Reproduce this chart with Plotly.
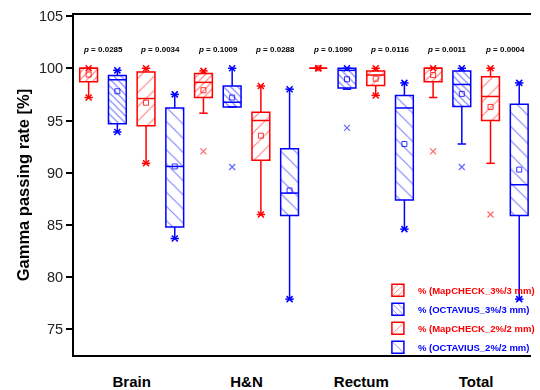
import plotly.graph_objects as go

# ---------------- data ----------------
groups = ["Brain", "H&N", "Rectum", "Total"]
series_names = ["% (MapCHECK_3%/3 mm)", "% (OCTAVIUS_3%/3 mm)",
                "% (MapCHECK_2%/2 mm)", "% (OCTAVIUS_2%/2 mm)"]
p_values = ["0.0285", "0.0034", "0.1009", "0.0288",
            "0.1090", "0.0116", "0.0011", "0.0004"]

# MapCHECK 3%/3 mm  (Brain, H&N, Rectum, Total)
mc3_q1 = [98.7, 97.2, 100.0, 98.7]
mc3_med = [100.0, 98.65, 100.0, 100.0]
mc3_q3 = [100.0, 99.5, 100.0, 100.0]
mc3_mean = [99.4, 97.9, 100.0, 99.35]
mc3_lo = [97.2, 95.7, 100.0, 97.2]
mc3_hi = [100.0, 99.75, 100.0, 100.0]
mc3_out = [[], [92.05], [], [92.05]]

# OCTAVIUS 3%/3 mm
oc3_q1 = [94.7, 96.3, 98.1, 96.35]
oc3_med = [98.9, 96.75, 99.8, 98.45]
oc3_q3 = [99.3, 98.3, 100.0, 99.75]
oc3_mean = [97.8, 97.2, 98.95, 97.55]
oc3_lo = [93.9, 96.3, 98.0, 92.75]
oc3_hi = [99.8, 100.0, 100.0, 100.0]
oc3_out = [[], [90.55], [94.3], [90.55]]

# MapCHECK 2%/2 mm
mc2_q1 = [94.5, 91.2, 98.35, 95.0]
mc2_med = [97.1, 95.0, 99.35, 97.3]
mc2_q3 = [99.65, 95.8, 99.75, 99.2]
mc2_mean = [96.7, 93.55, 99.0, 96.3]
mc2_lo = [90.9, 86.0, 97.4, 90.9]
mc2_hi = [100.0, 98.3, 100.0, 100.0]
mc2_out = [[], [], [], [86.0]]

# OCTAVIUS 2%/2 mm
oc2_q1 = [84.8, 85.9, 87.4, 85.9]
oc2_med = [90.6, 88.05, 96.2, 88.85]
oc2_q3 = [96.2, 92.3, 97.4, 96.55]
oc2_mean = [90.6, 88.3, 92.75, 90.3]
oc2_lo = [83.7, 77.9, 84.6, 77.9]
oc2_hi = [97.5, 98.0, 98.6, 98.6]
oc2_out = [[], [], [], []]

# ---------------- styling ----------------
RED = "#FF0000"
BLUE = "#0000FF"
series = [
    dict(name=series_names[0], q1=mc3_q1, med=mc3_med, q3=mc3_q3, mean=mc3_mean,
         lo=mc3_lo, hi=mc3_hi, out=mc3_out, color=RED, light="rgba(255,0,0,0.6)",
         shape="/", size=5, sol=0.22),
    dict(name=series_names[1], q1=oc3_q1, med=oc3_med, q3=oc3_q3, mean=oc3_mean,
         lo=oc3_lo, hi=oc3_hi, out=oc3_out, color=BLUE, light="rgba(0,0,255,0.6)",
         shape="\\", size=5, sol=0.22),
    dict(name=series_names[2], q1=mc2_q1, med=mc2_med, q3=mc2_q3, mean=mc2_mean,
         lo=mc2_lo, hi=mc2_hi, out=mc2_out, color=RED, light="rgba(255,0,0,0.6)",
         shape="/", size=10, sol=0.11),
    dict(name=series_names[3], q1=oc2_q1, med=oc2_med, q3=oc2_q3, mean=oc2_mean,
         lo=oc2_lo, hi=oc2_hi, out=oc2_out, color=BLUE, light="rgba(0,0,255,0.6)",
         shape="\\", size=10, sol=0.11),
]
NS = len(series)
BW = 0.62  # box width in slot units

fig = go.Figure()

for s, d in enumerate(series):
    pos = [NS * g + s for g in range(len(groups))]
    c = d["color"]
    # boxes (patterned)
    fig.add_trace(go.Bar(
        x=pos, y=[b - a for a, b in zip(d["q1"], d["q3"])], base=d["q1"],
        width=BW, name=f"<span style='color:{c}'>{d['name']}</span>",
        marker=dict(color="white", line=dict(color=c, width=1.5),
                    pattern=dict(shape=d["shape"], fgcolor=c, bgcolor="white",
                                 size=d["size"], solidity=d["sol"])),
        hoverinfo="skip"))
    # whiskers
    wx, wy = [], []
    for p, a, b, lo, hi in zip(pos, d["q1"], d["q3"], d["lo"], d["hi"]):
        wx += [p, p, None, p, p, None]
        wy += [b, hi, None, a, lo, None]
    fig.add_trace(go.Scatter(x=wx, y=wy, mode="lines", line=dict(color=c, width=1.5),
                             showlegend=False, hoverinfo="skip"))
    # medians
    mx, my = [], []
    for p, m in zip(pos, d["med"]):
        mx += [p - BW / 2, p + BW / 2, None]
        my += [m, m, None]
    fig.add_trace(go.Scatter(x=mx, y=my, mode="lines", line=dict(color=c, width=1.5),
                             showlegend=False, hoverinfo="skip"))
    # whisker caps
    fig.add_trace(go.Scatter(x=pos + pos, y=d["lo"] + d["hi"], mode="markers",
                             marker=dict(symbol="line-ew", size=6,
                                         line=dict(color=c, width=1.5)),
                             showlegend=False, hoverinfo="skip"))
    # min / max markers
    kx, ky = [], []
    for p, lo, hi, out in zip(pos, d["lo"], d["hi"], d["out"]):
        kx.append(p); ky.append(hi)
        if not [o for o in out if o < lo]:
            kx.append(p); ky.append(lo)
    fig.add_trace(go.Scatter(x=kx, y=ky, mode="markers",
                             marker=dict(symbol="x-thin", size=6,
                                         line=dict(color=c, width=1.5)),
                             showlegend=False, hoverinfo="skip"))
    # outliers
    ox, oy = [], []
    for p, out in zip(pos, d["out"]):
        for o in out:
            ox.append(p); oy.append(o)
    fig.add_trace(go.Scatter(x=ox, y=oy, mode="markers",
                             marker=dict(symbol="x-thin", size=6,
                                         line=dict(color=d["light"], width=1.2)),
                             showlegend=False, hoverinfo="skip"))
    # means
    fig.add_trace(go.Scatter(x=pos, y=d["mean"], mode="markers",
                             marker=dict(symbol="square-open", size=5, color=c,
                                         line=dict(color=c, width=1)),
                             opacity=0.8, showlegend=False, hoverinfo="skip"))

# p-value annotations
for i, pv in enumerate(p_values):
    fig.add_annotation(x=2 * i + 0.5, y=101.75, text=f"<b><i>p</i> = {pv}</b>",
                       showarrow=False, font=dict(family="Arial", size=8, color="black"))

centers = [NS * g + (NS - 1) / 2 for g in range(len(groups))]
fig.update_layout(
    width=540, height=390,
    margin=dict(l=74, r=0, t=15, b=30),
    paper_bgcolor="white", plot_bgcolor="white",
    barmode="overlay",
    font=dict(family="Arial", color="black"),
    xaxis=dict(range=[-0.51, 15.41], showline=True, linewidth=2, linecolor="black",
               mirror=True, ticks="", tickvals=centers, ticktext=groups,
               tickfont=dict(size=15, family="Arial", weight="bold"),
               showgrid=False, zeroline=False, ticklabelstandoff=12),
    yaxis=dict(range=[72.55, 105.1], showline=True, linewidth=2, linecolor="black",
               ticks="outside", ticklen=6, tickwidth=1.5, tickcolor="black",
               tickvals=[75, 80, 85, 90, 95, 100, 105],
               tickfont=dict(size=14.5, family="Arial", color="#222"),
               showgrid=False, zeroline=False,
               title=dict(text="Gamma passing rate [%]", standoff=5,
                          font=dict(size=16.5, family="Arial", weight="bold"))),
    legend=dict(x=0.665, xanchor="left", y=-0.02, yanchor="bottom",
                bgcolor="rgba(0,0,0,0)", tracegroupgap=0,
                font=dict(size=9.5, family="Arial", weight="bold")),
)

fig.write_html("out.html", config={"displayModeBar": False},
               post_script="document.body.style.margin='0';")
